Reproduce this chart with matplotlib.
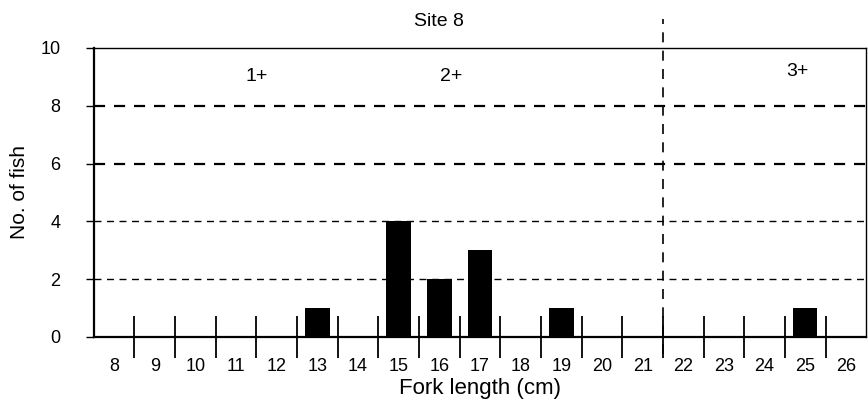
import numpy as np
import matplotlib
matplotlib.use("Agg")
import matplotlib.pyplot as plt

# Fork length classes (cm) and number of fish in each
lengths = list(range(8, 27))
counts = [0, 0, 0, 0, 0, 1, 0, 4, 2, 3, 0, 1, 0, 0, 0, 0, 0, 1, 0]

age_labels = ["1+", "2+", "3+"]
age_label_x = [11.5, 16.3, 24.8]
age_label_y = [9.0, 9.0, 9.2]
age_split = 21.5

plt.rcParams['font.family'] = ['Liberation Sans', 'DejaVu Sans']

fig = plt.figure(figsize=(8.68, 4.17), dpi=100)
ax = fig.add_axes([0.108, 0.192, 0.890, 0.693])

ax.bar(lengths, counts, width=0.6, color='black', zorder=3)

ax.set_xlim(7.5, 26.5)
ax.set_ylim(0, 10)

# dashed horizontal lines
for yv in [2, 4, 6, 8]:
    lw = 1.6 if yv >= 6 else 1.0
    ax.axhline(yv, color='black', linestyle=(0, (5, 4)), linewidth=lw, zorder=1)

# vertical dashed divider between age groups
ax.plot([age_split, age_split], [-0.6, 11.0], color='black', linestyle=(0, (6, 5)),
        linewidth=1.2, clip_on=False, zorder=2)

for lab, xx, yy in zip(age_labels, age_label_x, age_label_y):
    ax.text(xx, yy, lab, ha='center', va='center', fontsize=14)

# x ticks at class boundaries, labels at class centres
ax.set_xticks(np.arange(8.5, 26.5, 1.0))
ax.set_xticks(lengths, minor=True)
ax.set_xticklabels([])
ax.set_xticklabels([str(v) for v in lengths], minor=True, fontsize=13)
ax.tick_params(axis='x', which='major', direction='inout', length=30, width=1.3)
ax.tick_params(axis='x', which='minor', length=0, pad=15)

ax.set_yticks([0, 2, 4, 6, 8, 10])
ax.set_yticklabels(['0', '2', '4', '6', '8', '10'], fontsize=13)
ax.tick_params(axis='y', direction='out', length=6, width=1.0, pad=18)

for s in ['left', 'bottom']:
    ax.spines[s].set_linewidth(1.6)
for s in ['top', 'right']:
    ax.spines[s].set_linewidth(1.0)

ax.text(16.0, 10.9, 'Site 8', ha='center', va='center', fontsize=14)
ax.set_xlabel('Fork length (cm)', fontsize=16, labelpad=2)
ax.set_ylabel('No. of fish', fontsize=15, labelpad=8)

fig.savefig('out.png', dpi=100)
